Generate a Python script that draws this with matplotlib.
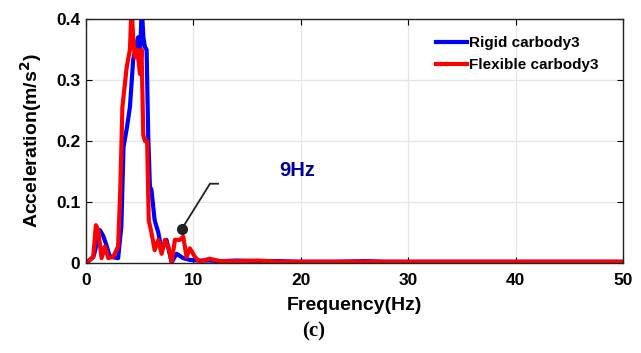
import matplotlib
matplotlib.use('Agg')
import matplotlib.pyplot as plt
import numpy as np

plt.rcParams['font.family'] = ['Liberation Sans', 'DejaVu Sans']
plt.rcParams['font.weight'] = 'bold'
plt.rcParams['mathtext.default'] = 'bf'

# frequency (Hz) / acceleration (m/s^2)
f_rigid = [0.0, 0.3, 0.7, 1.0, 1.3, 1.6, 1.9, 2.2, 2.6, 3.0, 3.3, 3.5, 3.8, 4.1,
           4.4, 4.85, 5.05, 5.2, 5.35, 5.5, 5.65, 5.8, 5.96, 6.1, 6.4, 6.74, 7.05,
           7.5, 7.98, 8.44, 9.06, 9.7, 10.5, 11.5, 12.5, 14, 16, 18, 20, 23, 26,
           28, 32, 36, 40, 45, 50]
a_rigid = [0.0, 0.004, 0.01, 0.03, 0.054, 0.045, 0.03, 0.012, 0.009, 0.008, 0.06,
           0.19, 0.22, 0.256, 0.333, 0.37, 0.345, 0.42, 0.37, 0.354, 0.35, 0.21,
           0.125, 0.12, 0.07, 0.05, 0.021, 0.038, 0.001, 0.015, 0.008, 0.005,
           0.004, 0.004, 0.003, 0.004, 0.003, 0.003, 0.002, 0.002, 0.003, 0.002,
           0.002, 0.002, 0.002, 0.002, 0.002]

f_flex = [0.0, 0.3, 0.68, 0.93, 1.15, 1.46, 1.77, 2.08, 2.54, 3.0, 3.2, 3.4, 3.79,
          4.1, 4.25, 4.4, 4.56, 4.78, 5.03, 5.18, 5.34, 5.5, 5.7, 5.85, 6.1, 6.4,
          6.74, 7.05, 7.36, 7.67, 7.98, 8.29, 8.75, 9.06, 9.37, 9.68, 10.15, 10.6,
          11.5, 12.5, 14, 16, 18, 20, 24, 28, 32, 36, 40, 45, 50]
a_flex = [0.0, 0.004, 0.01, 0.062, 0.054, 0.008, 0.027, 0.008, 0.01, 0.027, 0.12,
          0.256, 0.32, 0.35, 0.42, 0.37, 0.338, 0.35, 0.31, 0.35, 0.21, 0.2, 0.2,
          0.07, 0.05, 0.021, 0.038, 0.015, 0.038, 0.027, 0.002, 0.038, 0.038,
          0.043, 0.01, 0.024, 0.01, 0.002, 0.007, 0.003, 0.003, 0.004, 0.002,
          0.002, 0.002, 0.002, 0.002, 0.002, 0.002, 0.002, 0.002]

xticks = [0, 10, 20, 30, 40, 50]
yticks = [0, 0.1, 0.2, 0.3, 0.4]
ytick_labels = ['0', '0.1', '0.2', '0.3', '0.4']

fig = plt.figure(figsize=(6.41, 3.53), dpi=100)
ax = fig.add_axes([0.134, 0.255, 0.838, 0.691])

ax.plot(f_rigid, a_rigid, color='#0000ff', lw=3.0, label='Rigid carbody3')
ax.plot(f_flex, a_flex, color='#ff0000', lw=3.0, label='Flexible carbody3')

ax.set_xlim(0, 50)
ax.set_ylim(0, 0.4)
ax.set_xticks(xticks)
ax.set_yticks(yticks)
ax.set_yticklabels(ytick_labels)
ax.grid(True, color='#e6e6e6', lw=0.9)
ax.set_axisbelow(True)
ax.tick_params(direction='in', top=True, right=True, labelsize=12.5, length=4,
               width=0.8)
ax.tick_params(axis='x', pad=7)
ax.tick_params(axis='y', pad=4)
for s in ax.spines.values():
    s.set_linewidth(1.0)
    s.set_color('#222222')

ax.set_xlabel('Frequency(Hz)', fontsize=14, fontweight='bold', labelpad=7)
ax.set_ylabel('Acceleration(m/s$^2$)', fontsize=14, fontweight='bold', labelpad=9)

# annotation marker for the 9 Hz peak
ax.plot([8.9], [0.055], 'o', color='#222222', ms=7, zorder=5)
ax.plot([8.9, 11.55, 12.3], [0.055, 0.13, 0.13], color='#222222', lw=1.3, zorder=5)
ax.text(19.7, 0.152, '9Hz', color='#000099', fontsize=14.5, fontweight='bold',
        ha='center', va='center')

leg = ax.legend(loc='upper right', bbox_to_anchor=(0.98, 0.985), frameon=False,
                fontsize=11, handlelength=2.0, handletextpad=0.15, labelspacing=0.5)
for t in leg.get_texts():
    t.set_fontweight('bold')

fig.text(0.49, 0.06, '(c)', fontsize=15, fontweight='bold', ha='center',
         va='center', family='Liberation Serif')

fig.savefig('out.png', dpi=100)
